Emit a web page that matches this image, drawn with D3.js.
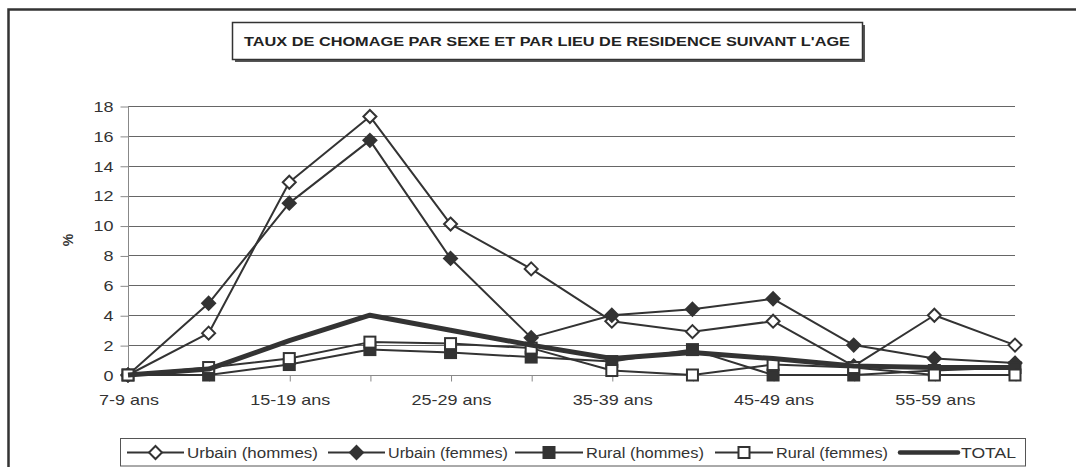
<!DOCTYPE html>
<html><head><meta charset="utf-8">
<script src="https://cdn.jsdelivr.net/npm/d3@7"></script>
<style>
html,body{margin:0;padding:0;background:#fff;}
svg{display:block;font-family:"Liberation Sans",Arial,sans-serif;}
</style></head>
<body>
<svg id="chart" width="1076" height="467"></svg>
<script>
const categories = ["7-9 ans","10-14 ans","15-19 ans","20-24 ans","25-29 ans","30-34 ans","35-39 ans","40-44 ans","45-49 ans","50-54 ans","55-59 ans","60-64 ans"];
const urbainHommes = [0,2.8,12.9,17.3,10.1,7.1,3.6,2.9,3.6,0.6,4.0,2.0];
const urbainFemmes = [0,4.8,11.5,15.7,7.8,2.5,4.0,4.4,5.1,2.0,1.1,0.8];
const ruralHommes  = [0,0,0.7,1.7,1.5,1.2,0.9,1.7,0,0,0.3,0.5];
const ruralFemmes  = [0,0.5,1.1,2.2,2.1,1.8,0.3,0,0.7,0.5,0,0];
const total        = [0,0.4,2.3,4.0,3.0,2.0,1.1,1.5,1.1,0.6,0.5,0.5];
const yTicks = [0,2,4,6,8,10,12,14,16,18];
const seriesNames = ["Urbain (hommes)","Urbain (femmes)","Rural (hommes)","Rural (femmes)","TOTAL"];
const titleText = "TAUX DE CHOMAGE PAR SEXE ET PAR LIEU DE RESIDENCE SUIVANT L'AGE";

const ink = "#333";
const svg = d3.select("#chart");
function widen(sel, k){ sel.each(function(){ const w=this.getComputedTextLength(); d3.select(this).attr("textLength", w*k).attr("lengthAdjust","spacingAndGlyphs"); }); }

// outer frame
svg.append("rect").attr("x",8.5).attr("y",9.5).attr("width",1100).attr("height",500)
  .attr("fill","none").attr("stroke",ink).attr("stroke-width",2.5);

// title box with shadow
svg.append("rect").attr("x",235).attr("y",25).attr("width",630).attr("height",37).attr("fill","#555");
svg.append("rect").attr("x",232.5).attr("y",22.5).attr("width",630).attr("height",37)
  .attr("fill","#fff").attr("stroke",ink).attr("stroke-width",1.5);
svg.append("text").attr("x",547).attr("y",45.5).attr("text-anchor","middle")
  .attr("font-size",12).attr("font-weight","bold").attr("fill","#222")
  .attr("textLength",606).attr("lengthAdjust","spacingAndGlyphs").text(titleText);

const x = d3.scalePoint().domain(categories).range([128,1015]);
const y = d3.scaleLinear().domain([0,18]).range([375,106]);

// gridlines
svg.append("g").selectAll("line").data(yTicks.filter(d=>d>0)).join("line")
  .attr("x1",128).attr("x2",1015).attr("y1",d=>Math.round(y(d))+0.5).attr("y2",d=>Math.round(y(d))+0.5)
  .attr("stroke","#666").attr("stroke-width",1);

// y axis
const ya = svg.append("g").attr("transform","translate(128.5,0.5)")
  .call(d3.axisLeft(y).tickValues(yTicks).tickSize(8).tickPadding(7).tickFormat(d3.format("d")));
ya.select(".domain").attr("stroke","#888").attr("d","M0,"+Math.round(y(18))+"V"+Math.round(y(0)));
ya.selectAll(".tick line").attr("stroke","#888");
ya.selectAll("text").attr("font-size",15).attr("fill","#333").attr("font-family","Liberation Sans, Arial, sans-serif");
widen(ya.selectAll("text"), 1.2);

// x axis
const xa = svg.append("g").attr("transform","translate(0.5,"+(Math.round(y(0))+0.5)+")")
  .call(d3.axisBottom(x).tickSize(6).tickPadding(13).tickFormat((d,i)=> i%2===0 ? d : ""));
xa.select(".domain").attr("stroke","#888").attr("d","M128,0H1015");
xa.selectAll(".tick line").attr("stroke","#888");
xa.selectAll("text").attr("font-size",15).attr("fill","#333").attr("font-family","Liberation Sans, Arial, sans-serif");
widen(xa.selectAll("text"), 1.2);

// y axis title
svg.append("text").attr("transform","translate(73,240) rotate(-90)").attr("text-anchor","middle")
  .attr("font-size",14).attr("font-weight","bold").attr("fill","#333").text("%");

// series
const seriesData = [urbainHommes, urbainFemmes, ruralHommes, ruralFemmes, total];
const markers = ["diamondOpen","diamondFilled","squareFilled","squareOpen",null];
const widths = [2,2,2,2,5];
const line = d3.line().x((d,i)=>x(categories[i])).y(d=>y(d));

function drawMarker(g, type, cx, cy){
  if(!type) return;
  if(type.startsWith("diamond")){
    const r=6.5;
    g.append("path").attr("d",`M${cx},${cy-r}L${cx+r},${cy}L${cx},${cy+r}L${cx-r},${cy}Z`)
      .attr("fill", type==="diamondFilled"?ink:"#fff").attr("stroke",ink).attr("stroke-width",2);
  } else {
    const s=11;
    g.append("rect").attr("x",cx-s/2).attr("y",cy-s/2).attr("width",s).attr("height",s)
      .attr("fill", type==="squareFilled"?ink:"#fff").attr("stroke",ink).attr("stroke-width",2);
  }
}

seriesData.forEach((vals,k)=>{
  const g = svg.append("g");
  g.append("path").datum(vals).attr("d",line).attr("fill","none")
    .attr("stroke",ink).attr("stroke-width",widths[k]).attr("stroke-linejoin","round");
  vals.forEach((v,i)=> drawMarker(g, markers[k], x(categories[i]), y(v)));
});

// legend
svg.append("rect").attr("x",120.5).attr("y",438.5).attr("width",905).attr("height",27.5)
  .attr("fill","#fff").attr("stroke","#555").attr("stroke-width",1);
const legendLineX = [127,328,515,715,900];
const legendTextX = [187,388,586,776,961];
const legendTextW = [131,120,118,112,55];
seriesNames.forEach((name,k)=>{
  const g = svg.append("g");
  const x0 = legendLineX[k], x1 = legendTextX[k]-3, ly = 452.5;
  g.append("line").attr("x1",x0).attr("x2",x1).attr("y1",ly).attr("y2",ly)
    .attr("stroke",ink).attr("stroke-width", k===4?4.5:2).attr("stroke-linecap", k===4?"round":"butt");
  drawMarker(g, markers[k], (x0+x1)/2, ly);
  g.append("text").attr("x",legendTextX[k]).attr("y",ly+5).attr("font-size",14).attr("fill","#333")
    .attr("textLength",legendTextW[k]).attr("lengthAdjust","spacingAndGlyphs").text(name);
});
</script>
</body></html>
